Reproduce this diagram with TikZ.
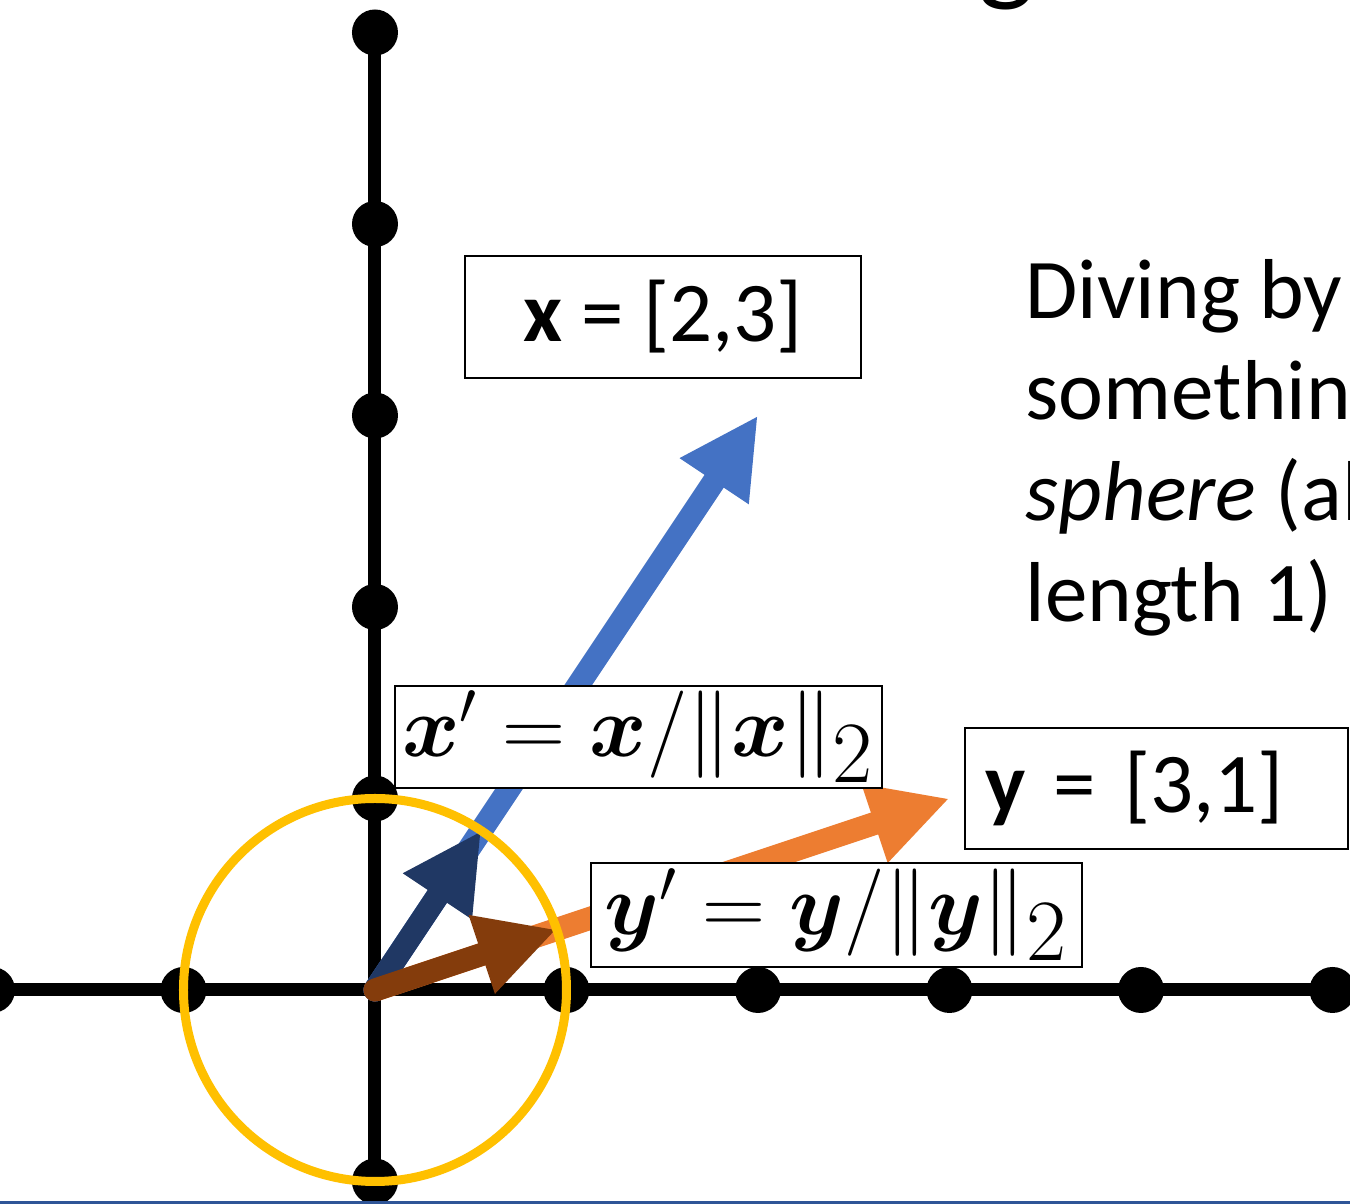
\documentclass[tikz,border=0pt]{standalone}
\usepackage{amsmath}
\usepackage{bm}
\usepackage{fontspec}
\setmainfont{Carlito}
\usetikzlibrary{arrows.meta,positioning}
\definecolor{vecblue}{HTML}{4472C4}
\definecolor{vecorange}{HTML}{ED7D31}
\definecolor{normblue}{HTML}{203864}
\definecolor{normbrown}{HTML}{843C0C}
\definecolor{ringgold}{HTML}{FFC000}
\definecolor{slideline}{HTML}{2F5597}
\tikzset{
  axisline/.style={line width=1.3mm,black},
  vecarrow/.style={line width=2.3mm,line cap=round,-{Triangle[length=7.9mm,width=7.7mm]}},
  labelbox/.style={rectangle,draw=black,line width=0.6pt,fill=white,align=center,inner sep=0pt},
  bigtext/.style={font=\fontsize{24.2}{28.8}\selectfont}
}

\begin{document}
\begin{tikzpicture}[x=1.915cm,y=1.915cm]
    \useasboundingbox (-1.9582,-1.1175) rectangle (5.0914,5.1697);
    \clip (-1.9582,-1.1175) rectangle (5.0914,5.1697);
    \fill[white] (-1.9582,-1.1175) rectangle (5.0914,5.1697);
    % axes
    \coordinate (O) at (0,0);
    \draw[axisline] (-2,0) -- (5,0);
    \draw[axisline] (0,-1) -- (0,5);
    \fill (-2,0) circle (2.3mm);
    \fill (-1,0) circle (2.3mm);
    \fill (1,0) circle (2.3mm);
    \fill (2,0) circle (2.3mm);
    \fill (3,0) circle (2.3mm);
    \fill (4,0) circle (2.3mm);
    \fill (5,0) circle (2.3mm);
    \fill (0,-1) circle (2.3mm);
    \fill (0,1) circle (2.3mm);
    \fill (0,2) circle (2.3mm);
    \fill (0,3) circle (2.3mm);
    \fill (0,4) circle (2.3mm);
    \fill (0,5) circle (2.3mm);
    % vectors and their unit versions
    \coordinate (xtip) at (2,3);
    \coordinate (ytip) at (3,1);
    \coordinate (xunit) at (0.5547,0.8321);
    \coordinate (yunit) at (0.9487,0.3162);
    \draw[vecarrow,vecblue] (O) -- (xtip);
    \draw[vecarrow,vecorange] (O) -- (ytip);
    \draw[vecarrow,normblue] (O) -- (xunit);
    \draw[vecarrow,normbrown] (O) -- (yunit);
    \draw[ringgold,line width=0.9mm] (O) circle (1);
    % labels
    \node[labelbox,bigtext,minimum width=3.96cm,minimum height=1.22cm] (xlabel) at (1.504,3.514) {\textbf{x} = [2,3]};
    \node[labelbox,minimum width=4.87cm,minimum height=1.02cm,font=\fontsize{25}{28}\selectfont] (xnorm) at (1.376,1.321) {$\bm{x}' = \bm{x}/\|\bm{x}\|_{\textstyle 2}$};
    \node[labelbox,bigtext,minimum width=3.83cm,minimum height=1.21cm,text width=3.43cm,align=left] (ylabel) at (4.081,1.052) {\textbf{y} = [3,1]};
    \node[labelbox,minimum width=4.91cm,minimum height=1.04cm,font=\fontsize{25}{28}\selectfont] (ynorm) at (2.410,0.392) {$\bm{y}' = \bm{y}/\|\bm{y}\|_{\textstyle 2}$};
    \node[bigtext,anchor=base west,align=left,inner sep=0pt] (note) at (3.394,1.922) {Diving by\\somethin\\\textit{sphere} (al\\length 1)};
    \node[font=\fontsize{34}{38}\selectfont,anchor=south,inner sep=0pt] (title) at (3.298,5.115) {g};
    \fill[slideline] (-1.9582,-1.1175) rectangle (5.0914,-1.1005);
  \end{tikzpicture}
\end{document}
